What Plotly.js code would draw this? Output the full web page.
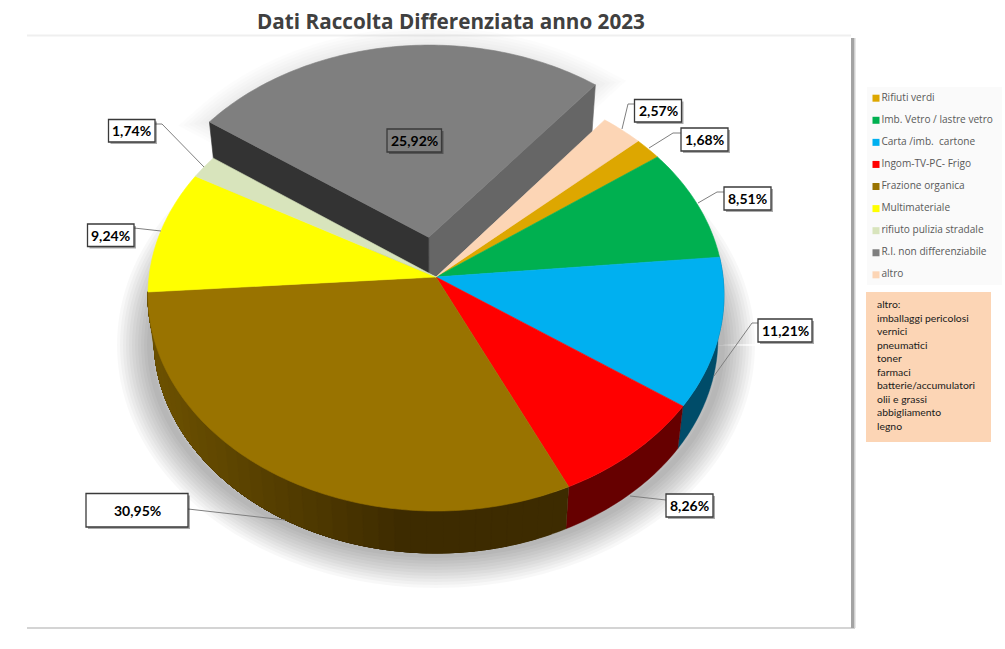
<!DOCTYPE html>
<html>
<head>
<meta charset="utf-8">
<script src="https://cdn.plot.ly/plotly-3.0.1.min.js"></script>
<style>html,body{margin:0;padding:0;background:#fff;overflow:hidden}#chart{width:1005px;height:649px}</style>
</head>
<body>
<div id="chart"></div>
<script>
// ---------- data ----------
var categories = ['Rifiuti verdi','Imb. Vetro / lastre vetro','Carta /imb.\u00A0 cartone','Ingom-TV-PC- Frigo','Frazione organica','Multimateriale','rifiuto pulizia stradale','R.I. non differenziabile','altro'];
var values = [1.68, 8.51, 11.21, 8.26, 30.95, 9.24, 1.74, 25.92, 2.57];
var colors = ['#DDA700','#00B050','#00B0F0','#FF0000','#997300','#FFFF00','#D8E4BC','#7F7F7F','#FCD5B5'];
var wallColors = [null,null,'#004C69','#660000','gradient',null,null,null,null];
var altroLines = ['altro:','imballaggi pericolosi','vernici','pneumatici','toner','farmaci','batterie/accumulatori','olii e grassi','abbigliamento','legno'];
var titleText = 'Dati Raccolta Differenziata anno 2023';

// ---------- projection of the tilted pie ----------
var cx = 436, cy = 295, rx = 288, ry = 216, v0 = -1/12;
var bx = 282, by = 215, bcy = 338;
var startAngle = 48, explodeIndex = 7, explode = 0.19;
function project(a, b) {
  var d = 1 + b * v0;
  return [cx + rx * a * Math.sqrt(1 - v0 * v0) / d, cy + ry * (b + v0) / d];
}
function lower(p) { return [cx + (p[0] - cx) * bx / rx, bcy + (p[1] - cy) * by / ry]; }
function lowerDeep(p) { var q = lower(p); return [q[0], q[1] + 3]; }
function rad(t) { return t * Math.PI / 180; }
function arc(t1, t2, ox, oy) {
  var n = Math.max(2, Math.ceil(t2 - t1)), out = [];
  for (var i = 0; i <= n; i++) {
    var t = rad(t1 + (t2 - t1) * i / n);
    out.push(project(ox + Math.sin(t), oy - Math.cos(t)));
  }
  return out;
}
var traces = [];
function poly(pts, fill, lineColor, lineWidth) {
  var xs = pts.map(function (p) { return p[0]; }), ys = pts.map(function (p) { return p[1]; });
  xs.push(xs[0]); ys.push(ys[0]);
  traces.push({ type: 'scatter', mode: 'lines', x: xs, y: ys, fill: fill ? 'toself' : 'none', fillcolor: fill || 'rgba(0,0,0,0)',
    line: { color: lineColor || fill, width: lineWidth === undefined ? 0.6 : lineWidth, simplify: false }, hoverinfo: 'skip', showlegend: false });
}

var total = values.reduce(function (s, v) { return s + v; }, 0);
var bounds = [startAngle];
values.forEach(function (v, i) { bounds.push(bounds[i] + 360 * v / total); });

// ---------- soft shadows ----------
function ellipsePts(ex, ey, a, b) {
  var o = [];
  for (var t = 0; t < 360; t += 2) o.push([ex + a * Math.cos(rad(t)), ey + b * Math.sin(rad(t))]);
  return o;
}
var gi = explodeIndex;
var bis = rad((bounds[gi] + bounds[gi + 1]) / 2);
var ox = explode * Math.sin(bis), oy = -explode * Math.cos(bis);
var gTop = arc(bounds[gi], bounds[gi + 1], ox, oy);
var gApex = project(ox, oy);
for (var w = 6; w <= 66; w += 6) {
  poly(ellipsePts(436, 345, 286, 210), null, 'rgba(0,0,0,0.026)', w);
  if (w <= 36) poly([gApex].concat(gTop), null, 'rgba(0,0,0,0.012)', w);
}

// ---------- exploded slice ----------
var gFirst = gTop[0], gLast = gTop[gTop.length - 1];
poly([gApex, gLast, lowerDeep(gLast), lowerDeep(gApex)], '#666666');
poly([gApex, gFirst, lower(gFirst), lower(gApex)], '#333333');
poly([gApex].concat(gTop), colors[gi]);

// ---------- outer walls of the front slices ----------
function brownShade(x) {
  var t = Math.min(1, Math.max(0, (400 - x) / 240));
  return 'rgb(' + Math.round(61 + 46 * t) + ',' + Math.round(43 + 37 * t) + ',0)';
}
values.forEach(function (v, i) {
  if (!wallColors[i]) return;
  var step = wallColors[i] === 'gradient' ? 3 : (bounds[i + 1] - bounds[i]);
  for (var t = bounds[i]; t < bounds[i + 1] - 0.001; t += step) {
    var top = arc(t, bounds[i + 1], 0, 0);
    var col = wallColors[i] === 'gradient' ? brownShade(project(Math.sin(rad(t + step / 2)), -Math.cos(rad(t + step / 2)))[0]) : wallColors[i];
    poly(top.concat(top.slice().reverse().map(lower)), col, col, 0.4);
  }
});

// ---------- top faces ----------
values.forEach(function (v, i) {
  if (i === explodeIndex) return;
  poly([project(0, 0)].concat(arc(bounds[i], bounds[i + 1], 0, 0)), colors[i]);
});

// ---------- leader lines ----------
var leaders = [
  [[155,124],[162,124],[204,167]],
  [[134,228],[161,231]],
  [[634,104],[628,104],[622,129]],
  [[681,133],[673,133],[649,148]],
  [[724,192],[717,192],[698,203]],
  [[758,323],[752,323],[714,376]],
  [[666,500],[630,496]],
  [[188,509],[285,520]]
];
leaders.forEach(function (l) {
  traces.push({ type: 'scatter', mode: 'lines', x: l.map(function (p) { return p[0]; }), y: l.map(function (p) { return p[1]; }),
    line: { color: '#7F7F7F', width: 1 }, hoverinfo: 'skip', showlegend: false });
});

// ---------- legend ----------
traces.push({ type: 'scatter', mode: 'markers+text',
  x: categories.map(function () { return 876; }),
  y: categories.map(function (c, i) { return 98.2 + 22.08 * i; }),
  text: categories, textposition: 'middle right',
  textfont: { family: 'Open Sans, sans-serif', size: 10.1, color: '#595959' },
  marker: { symbol: 'square', size: 7, color: colors, line: { width: 0 } },
  hoverinfo: 'skip', showlegend: false });

// ---------- value labels ----------
var boxes = [
  [387,441.5,129,152],[87.5,134,224,246.5],[108.5,155,119.5,142],[634.5,681.5,99.5,122],
  [681,728,128,151],[724,771,187,210],[758,812,319,342],[666,713,494,517],[86,188,493.5,527]
];
var boxIndex = [7,5,6,8,0,1,2,3,4];
var shapes = [
  { type: 'rect', layer: 'below', x0: 867, x1: 1002, y0: 87, y1: 285, fillcolor: '#FAFAFA', line: { width: 0 } },
  { type: 'rect', layer: 'below', x0: 866, x1: 991, y0: 292, y1: 442, fillcolor: '#FCD5B5', line: { width: 0 } },
  { type: 'line', layer: 'below', x0: 27, x1: 851, y0: 35.5, y1: 35.5, line: { color: '#EFEFEF', width: 2 } },
  { type: 'line', layer: 'below', x0: 27, x1: 855, y0: 628, y1: 628, line: { color: '#D4D4D4', width: 2 } },
  { type: 'line', layer: 'below', x0: 854.5, x1: 854.5, y0: 38, y1: 628, line: { color: '#D0D0D0', width: 2 } },
  { type: 'line', layer: 'below', x0: 852.5, x1: 852.5, y0: 38, y1: 628, line: { color: '#A3A3A3', width: 3 } }
];
var annotations = [];
boxes.forEach(function (b, k) {
  var i = boxIndex[k];
  shapes.push({ type: 'rect', layer: 'above', x0: b[0] + 2, x1: b[1] + 2, y0: b[2] + 2, y1: b[3] + 2, fillcolor: 'rgba(0,0,0,0.33)', line: { width: 0 } });
  shapes.push({ type: 'rect', layer: 'above', x0: b[0], x1: b[1], y0: b[2], y1: b[3], fillcolor: i === explodeIndex ? colors[i] : '#FFFFFF', line: { color: '#3A3A3A', width: 1.3 } });
  annotations.push({ x: (b[0] + b[1]) / 2, y: (b[2] + b[3]) / 2, xref: 'x', yref: 'y', showarrow: false,
    text: '<b>' + values[i].toFixed(2).replace('.', ',') + '%</b>',
    font: { family: 'Lato, sans-serif', size: 14, color: '#000000' } });
});
annotations.push({ x: 874.5, y: 296, xref: 'x', yref: 'y', xanchor: 'left', yanchor: 'top', align: 'left', showarrow: false,
  text: altroLines.join('<br>'), font: { family: 'Lato, sans-serif', size: 10.4, color: '#1A1A1A' } });

var layout = {
  width: 1005, height: 649, margin: { l: 0, r: 0, t: 0, b: 0 },
  paper_bgcolor: '#FFFFFF', plot_bgcolor: 'rgba(0,0,0,0)', showlegend: false,
  title: { text: '<b>' + titleText + '</b>', x: 451 / 1005, xanchor: 'center', y: 1 - 22 / 649, yanchor: 'middle',
    font: { family: 'Open Sans, sans-serif', size: 20.7, color: '#404040' } },
  xaxis: { range: [0, 1005], visible: false, fixedrange: true },
  yaxis: { range: [649, 0], visible: false, fixedrange: true },
  shapes: shapes, annotations: annotations
};
Plotly.newPlot('chart', traces, layout, { displayModeBar: false, staticPlot: true });
</script>
</body>
</html>
